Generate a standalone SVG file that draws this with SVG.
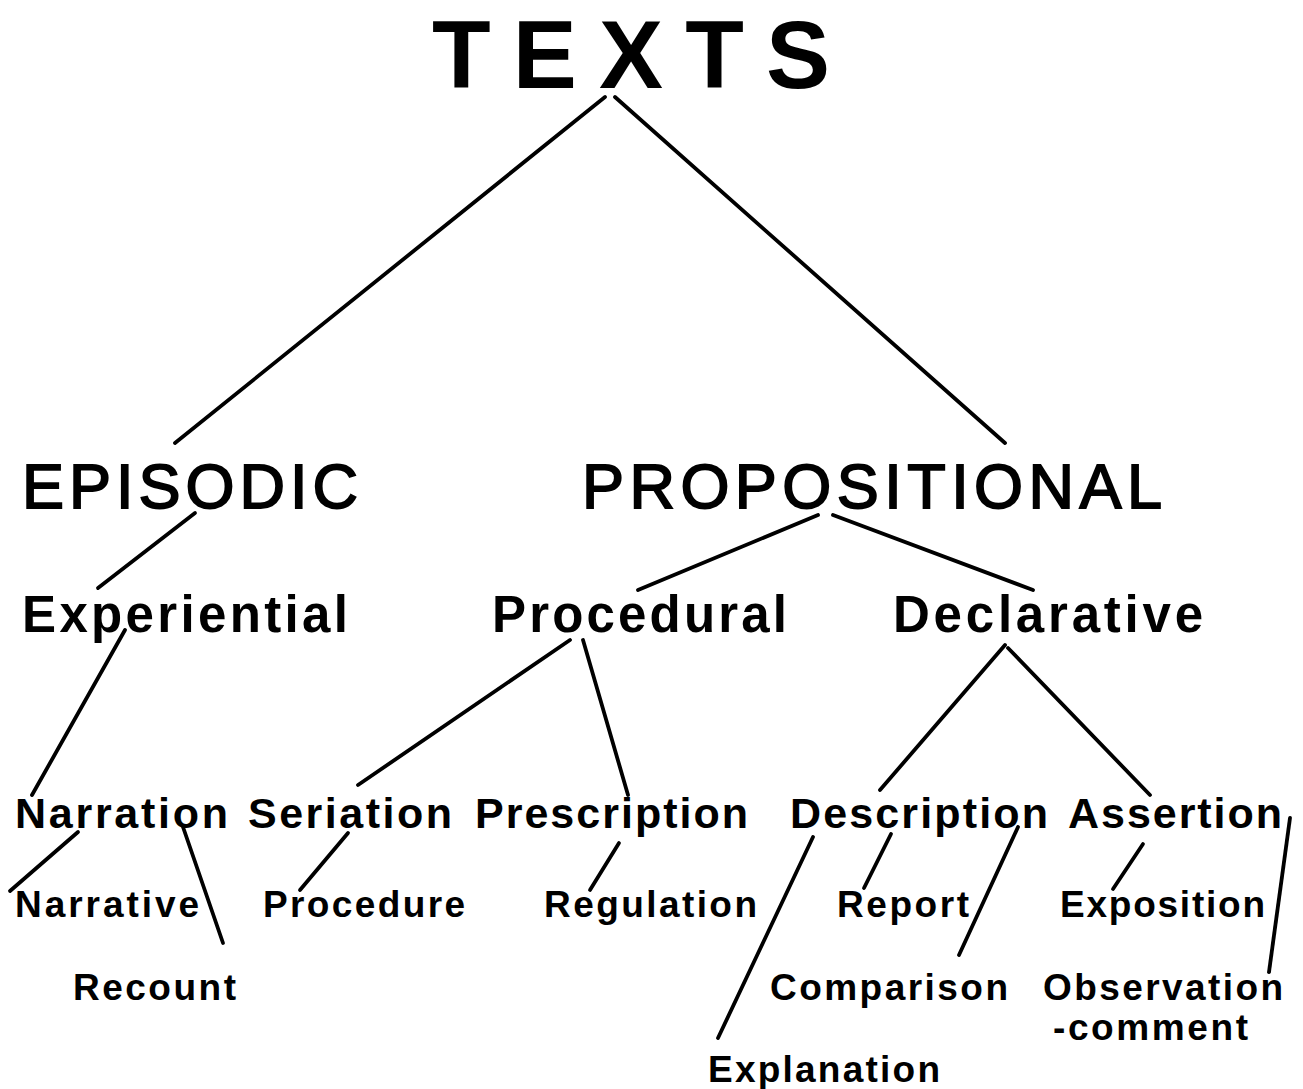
<svg xmlns="http://www.w3.org/2000/svg" width="1303" height="1089" viewBox="0 0 1303 1089">
<style>
text{font-family:"Liberation Sans",Arial,sans-serif;font-weight:bold;fill:#000}
.l0{font-size:96px}
.l1{font-size:63px;font-weight:normal;stroke:#000;stroke-width:1.8px}
.l2{font-size:51px}
.l3{font-size:43px}
.l4{font-size:37px}
#connectors line{stroke:#000;stroke-width:3.8;stroke-linecap:round}
</style>
<rect width="1303" height="1089" fill="#fff"/>
<g id="connectors">
<line x1="605" y1="97" x2="175" y2="443"/>
<line x1="615" y1="97" x2="1005" y2="443"/>
<line x1="195" y1="513" x2="98" y2="588"/>
<line x1="818" y1="515" x2="638" y2="590"/>
<line x1="833" y1="515" x2="1033" y2="590"/>
<line x1="125" y1="630" x2="32" y2="795"/>
<line x1="570" y1="640" x2="358" y2="785"/>
<line x1="583" y1="640" x2="628" y2="795"/>
<line x1="1005" y1="645" x2="880" y2="790"/>
<line x1="1008" y1="648" x2="1150" y2="795"/>
<line x1="78" y1="832" x2="10" y2="891"/>
<line x1="183" y1="827" x2="223" y2="943"/>
<line x1="348" y1="833" x2="300" y2="890"/>
<line x1="619" y1="843" x2="590" y2="890"/>
<line x1="813" y1="837" x2="718" y2="1038"/>
<line x1="891" y1="834" x2="864" y2="888"/>
<line x1="1018" y1="827" x2="959" y2="955"/>
<line x1="1143" y1="844" x2="1113" y2="889"/>
<line x1="1290" y1="818" x2="1269" y2="972"/>
</g>
<g id="texts"><text class="l0" x="432" y="88" textLength="398" lengthAdjust="spacing">TEXTS</text></g>
<g id="episodic"><text class="l1" x="22" y="508" textLength="336" lengthAdjust="spacing">EPISODIC</text></g>
<g id="propositional"><text class="l1" x="582" y="508" textLength="580" lengthAdjust="spacing">PROPOSITIONAL</text></g>
<g id="experiential"><text class="l2" x="22" y="632" textLength="326" lengthAdjust="spacing">Experiential</text></g>
<g id="procedural"><text class="l2" x="492" y="632" textLength="295" lengthAdjust="spacing">Procedural</text></g>
<g id="declarative"><text class="l2" x="893" y="632" textLength="310" lengthAdjust="spacing">Declarative</text></g>
<g id="narration"><text class="l3" x="15" y="828" textLength="213" lengthAdjust="spacing">Narration</text></g>
<g id="seriation"><text class="l3" x="248" y="828" textLength="204" lengthAdjust="spacing">Seriation</text></g>
<g id="prescription"><text class="l3" x="475" y="828" textLength="273" lengthAdjust="spacing">Prescription</text></g>
<g id="description"><text class="l3" x="790" y="828" textLength="258" lengthAdjust="spacing">Description</text></g>
<g id="assertion"><text class="l3" x="1068" y="828" textLength="214" lengthAdjust="spacing">Assertion</text></g>
<g id="narrative"><text class="l4" x="15" y="917" textLength="184" lengthAdjust="spacing">Narrative</text></g>
<g id="recount"><text class="l4" x="73" y="1000" textLength="163" lengthAdjust="spacing">Recount</text></g>
<g id="procedure"><text class="l4" x="263" y="917" textLength="202" lengthAdjust="spacing">Procedure</text></g>
<g id="regulation"><text class="l4" x="544" y="917" textLength="213" lengthAdjust="spacing">Regulation</text></g>
<g id="report"><text class="l4" x="837" y="917" textLength="132" lengthAdjust="spacing">Report</text></g>
<g id="exposition"><text class="l4" x="1060" y="917" textLength="205" lengthAdjust="spacing">Exposition</text></g>
<g id="comparison"><text class="l4" x="770" y="1000" textLength="238" lengthAdjust="spacing">Comparison</text></g>
<g id="observation"><text class="l4" x="1043" y="1000" textLength="240" lengthAdjust="spacing">Observation</text><text class="l4" x="1053" y="1040" textLength="195" lengthAdjust="spacing">-comment</text></g>
<g id="explanation"><text class="l4" x="708" y="1082" textLength="232" lengthAdjust="spacing">Explanation</text></g>
</svg>
